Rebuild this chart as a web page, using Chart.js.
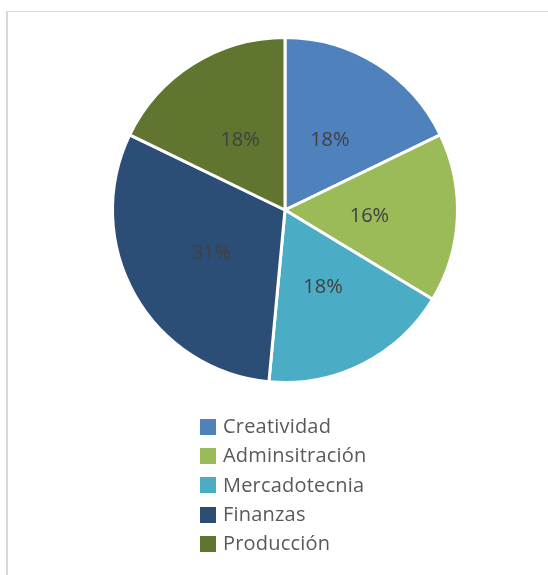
<!DOCTYPE html>
<html>
<head>
<meta charset="utf-8">
<script src="https://cdn.jsdelivr.net/npm/chart.js@4.4.1/dist/chart.umd.min.js"></script>
<style>
    html, body {
        margin: 0;
        padding: 0;
        background: #ffffff;
    }
    .frame {
        position: absolute;
        left: 6px;
        top: 11px;
        width: 560px;
        height: 580px;
        border-left: 2px solid #d9d9d9;
        border-top: 1px solid #d9d9d9;
    }
    #wrap {
        position: absolute;
        left: 0;
        top: 0;
        width: 548px;
        height: 575px;
    }
    #legend {
        position: absolute;
        left: 200px;
        top: 411px;
        margin: 0;
        padding: 0;
        list-style: none;
        font-family: "Open Sans", sans-serif;
        font-size: 20px;
        letter-spacing: 0.2px;
        color: #595959;
    }
    #legend li {
        display: flex;
        align-items: center;
        height: 29.3px;
        white-space: nowrap;
    }
    #legend .box {
        display: inline-block;
        width: 16px;
        height: 16px;
        margin-right: 7px;
        margin-top: 2px;
    }
</style>
</head>
<body>
<div class="frame"></div>
<div id="wrap"><canvas id="pieChart"></canvas></div>
<ul id="legend"></ul>
<script>
// Areas and their share (%)
const areas = ['Creatividad', 'Adminsitración', 'Mercadotecnia', 'Finanzas', 'Producción'];
const shares = [18, 16, 18, 31, 18];
const sliceColors = ['#4f81bd', '#9bbb59', '#4bacc6', '#2c4d75', '#5f7530'];

// Percent text in the middle of every slice
const sliceLabels = {
    id: 'sliceLabels',
    afterDatasetsDraw(chart) {
        const ctx = chart.ctx;
        const meta = chart.getDatasetMeta(0);
        ctx.save();
        ctx.font = '20px "Open Sans", sans-serif';
        ctx.fillStyle = '#404040';
        ctx.textAlign = 'center';
        ctx.textBaseline = 'middle';
        meta.data.forEach((arc, i) => {
            const p = arc.getProps(['x', 'y', 'startAngle', 'endAngle', 'outerRadius']);
            const mid = (p.startAngle + p.endAngle) / 2;
            const r = p.outerRadius * 0.49;
            ctx.fillText(shares[i] + '%', p.x + Math.cos(mid) * r, p.y + Math.sin(mid) * r + 2);
        });
        ctx.restore();
    }
};

const chart = new Chart(document.getElementById('pieChart'), {
    type: 'pie',
    data: {
        labels: areas,
        datasets: [{
            data: shares,
            backgroundColor: sliceColors,
            borderColor: '#ffffff',
            borderWidth: 3
        }]
    },
    options: {
        responsive: true,
        maintainAspectRatio: false,
        animation: false,
        layout: {
            padding: { left: 111, right: 89, top: 36, bottom: 191 }
        },
        plugins: {
            legend: { display: false },
            tooltip: { enabled: false }
        }
    },
    plugins: [sliceLabels]
});

// Legend list, one entry per line
const legendEl = document.getElementById('legend');
chart.options.plugins.legend.labels.generateLabels(chart).forEach(item => {
    const li = document.createElement('li');
    const box = document.createElement('span');
    box.className = 'box';
    box.style.background = item.fillStyle;
    li.appendChild(box);
    li.appendChild(document.createTextNode(item.text));
    legendEl.appendChild(li);
});
</script>
</body>
</html>
